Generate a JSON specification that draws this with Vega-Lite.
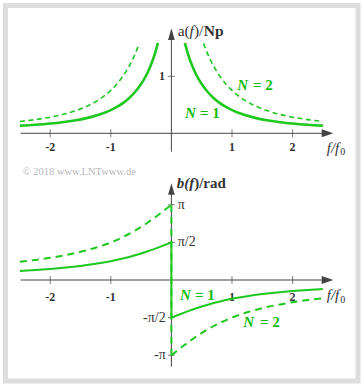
{
 "$schema": "https://vega.github.io/schema/vega-lite/v6.json",
 "width": 352.5, "height": 375.5,
 "autosize": {"type": "none"},
 "padding": {"left": 5.5, "top": 5.5, "right": 6, "bottom": 6},
 "background": "white",
 "config": {"view": {"stroke": "#dddddd", "strokeWidth": 5}, "mark": {"font": "Liberation Serif"}, "text": {"font": "Liberation Serif"}},
 "datasets": {
  "amp": [
   {"f":-2.5,"a":0.134,"N":1,"s":"L"},{"f":-2.25,"a":0.150,"N":1,"s":"L"},{"f":-2.0,"a":0.172,"N":1,"s":"L"},{"f":-1.8,"a":0.195,"N":1,"s":"L"},{"f":-1.6,"a":0.225,"N":1,"s":"L"},{"f":-1.4,"a":0.266,"N":1,"s":"L"},{"f":-1.2,"a":0.324,"N":1,"s":"L"},{"f":-1.0,"a":0.407,"N":1,"s":"L"},{"f":-0.9,"a":0.462,"N":1,"s":"L"},{"f":-0.8,"a":0.530,"N":1,"s":"L"},{"f":-0.7,"a":0.616,"N":1,"s":"L"},{"f":-0.6,"a":0.725,"N":1,"s":"L"},{"f":-0.5,"a":0.865,"N":1,"s":"L"},{"f":-0.45,"a":0.951,"N":1,"s":"L"},{"f":-0.4,"a":1.050,"N":1,"s":"L"},{"f":-0.35,"a":1.168,"N":1,"s":"L"},{"f":-0.3,"a":1.307,"N":1,"s":"L"},{"f":-0.275,"a":1.387,"N":1,"s":"L"},{"f":-0.25,"a":1.477,"N":1,"s":"L"},{"f":-0.24,"a":1.515,"N":1,"s":"L"},{"f":-0.223,"a":1.585,"N":1,"s":"L"},
   {"f":0.223,"a":1.585,"N":1,"s":"R"},{"f":0.24,"a":1.515,"N":1,"s":"R"},{"f":0.25,"a":1.477,"N":1,"s":"R"},{"f":0.275,"a":1.387,"N":1,"s":"R"},{"f":0.3,"a":1.307,"N":1,"s":"R"},{"f":0.35,"a":1.168,"N":1,"s":"R"},{"f":0.4,"a":1.050,"N":1,"s":"R"},{"f":0.45,"a":0.951,"N":1,"s":"R"},{"f":0.5,"a":0.865,"N":1,"s":"R"},{"f":0.6,"a":0.725,"N":1,"s":"R"},{"f":0.7,"a":0.616,"N":1,"s":"R"},{"f":0.8,"a":0.530,"N":1,"s":"R"},{"f":0.9,"a":0.462,"N":1,"s":"R"},{"f":1.0,"a":0.407,"N":1,"s":"R"},{"f":1.2,"a":0.324,"N":1,"s":"R"},{"f":1.4,"a":0.266,"N":1,"s":"R"},{"f":1.6,"a":0.225,"N":1,"s":"R"},{"f":1.8,"a":0.195,"N":1,"s":"R"},{"f":2.0,"a":0.172,"N":1,"s":"R"},{"f":2.25,"a":0.150,"N":1,"s":"R"},{"f":2.5,"a":0.134,"N":1,"s":"R"},
   {"f":-2.5,"a":0.208,"N":2,"s":"L"},{"f":-2.25,"a":0.240,"N":2,"s":"L"},{"f":-2.0,"a":0.283,"N":2,"s":"L"},{"f":-1.8,"a":0.329,"N":2,"s":"L"},{"f":-1.6,"a":0.390,"N":2,"s":"L"},{"f":-1.4,"a":0.472,"N":2,"s":"L"},{"f":-1.2,"a":0.587,"N":2,"s":"L"},{"f":-1.0,"a":0.753,"N":2,"s":"L"},{"f":-0.9,"a":0.864,"N":2,"s":"L"},{"f":-0.8,"a":1.001,"N":2,"s":"L"},{"f":-0.75,"a":1.082,"N":2,"s":"L"},{"f":-0.7,"a":1.172,"N":2,"s":"L"},{"f":-0.65,"a":1.274,"N":2,"s":"L"},{"f":-0.6,"a":1.389,"N":2,"s":"L"},{"f":-0.55,"a":1.520,"N":2,"s":"L"},{"f":-0.53,"a":1.577,"N":2,"s":"L"},
   {"f":0.53,"a":1.577,"N":2,"s":"R"},{"f":0.55,"a":1.520,"N":2,"s":"R"},{"f":0.6,"a":1.389,"N":2,"s":"R"},{"f":0.65,"a":1.274,"N":2,"s":"R"},{"f":0.7,"a":1.172,"N":2,"s":"R"},{"f":0.75,"a":1.082,"N":2,"s":"R"},{"f":0.8,"a":1.001,"N":2,"s":"R"},{"f":0.9,"a":0.864,"N":2,"s":"R"},{"f":1.0,"a":0.753,"N":2,"s":"R"},{"f":1.2,"a":0.587,"N":2,"s":"R"},{"f":1.4,"a":0.472,"N":2,"s":"R"},{"f":1.6,"a":0.390,"N":2,"s":"R"},{"f":1.8,"a":0.329,"N":2,"s":"R"},{"f":2.0,"a":0.283,"N":2,"s":"R"},{"f":2.25,"a":0.240,"N":2,"s":"R"},{"f":2.5,"a":0.208,"N":2,"s":"R"}
  ],
  "phase": [
   {"f":-2.5,"b":0.3805,"N":1,"s":"L"},{"f":-2.25,"b":0.4182,"N":1,"s":"L"},{"f":-2.0,"b":0.4636,"N":1,"s":"L"},{"f":-1.75,"b":0.5191,"N":1,"s":"L"},{"f":-1.5,"b":0.5880,"N":1,"s":"L"},{"f":-1.25,"b":0.6747,"N":1,"s":"L"},{"f":-1.0,"b":0.7854,"N":1,"s":"L"},{"f":-0.8,"b":0.8961,"N":1,"s":"L"},{"f":-0.6,"b":1.0304,"N":1,"s":"L"},{"f":-0.4,"b":1.1903,"N":1,"s":"L"},{"f":-0.3,"b":1.2793,"N":1,"s":"L"},{"f":-0.2,"b":1.3734,"N":1,"s":"L"},{"f":-0.1,"b":1.4711,"N":1,"s":"L"},{"f":-0.05,"b":1.5208,"N":1,"s":"L"},{"f":0,"b":1.5708,"N":1,"s":"L"},
   {"f":0,"b":-1.5708,"N":1,"s":"R"},{"f":0.05,"b":-1.5208,"N":1,"s":"R"},{"f":0.1,"b":-1.4711,"N":1,"s":"R"},{"f":0.2,"b":-1.3734,"N":1,"s":"R"},{"f":0.3,"b":-1.2793,"N":1,"s":"R"},{"f":0.4,"b":-1.1903,"N":1,"s":"R"},{"f":0.6,"b":-1.0304,"N":1,"s":"R"},{"f":0.8,"b":-0.8961,"N":1,"s":"R"},{"f":1.0,"b":-0.7854,"N":1,"s":"R"},{"f":1.25,"b":-0.6747,"N":1,"s":"R"},{"f":1.5,"b":-0.5880,"N":1,"s":"R"},{"f":1.75,"b":-0.5191,"N":1,"s":"R"},{"f":2.0,"b":-0.4636,"N":1,"s":"R"},{"f":2.25,"b":-0.4182,"N":1,"s":"R"},{"f":2.5,"b":-0.3805,"N":1,"s":"R"},
   {"f":-2.5,"b":0.7610,"N":2,"s":"L"},{"f":-2.25,"b":0.8364,"N":2,"s":"L"},{"f":-2.0,"b":0.9273,"N":2,"s":"L"},{"f":-1.75,"b":1.0382,"N":2,"s":"L"},{"f":-1.5,"b":1.1760,"N":2,"s":"L"},{"f":-1.25,"b":1.3494,"N":2,"s":"L"},{"f":-1.0,"b":1.5708,"N":2,"s":"L"},{"f":-0.8,"b":1.7922,"N":2,"s":"L"},{"f":-0.6,"b":2.0608,"N":2,"s":"L"},{"f":-0.4,"b":2.3806,"N":2,"s":"L"},{"f":-0.3,"b":2.5586,"N":2,"s":"L"},{"f":-0.2,"b":2.7468,"N":2,"s":"L"},{"f":-0.1,"b":2.9422,"N":2,"s":"L"},{"f":-0.05,"b":3.0416,"N":2,"s":"L"},{"f":0,"b":3.1416,"N":2,"s":"L"},
   {"f":0,"b":-3.1416,"N":2,"s":"R"},{"f":0.05,"b":-3.0416,"N":2,"s":"R"},{"f":0.1,"b":-2.9422,"N":2,"s":"R"},{"f":0.2,"b":-2.7468,"N":2,"s":"R"},{"f":0.3,"b":-2.5586,"N":2,"s":"R"},{"f":0.4,"b":-2.3806,"N":2,"s":"R"},{"f":0.6,"b":-2.0608,"N":2,"s":"R"},{"f":0.8,"b":-1.7922,"N":2,"s":"R"},{"f":1.0,"b":-1.5708,"N":2,"s":"R"},{"f":1.25,"b":-1.3494,"N":2,"s":"R"},{"f":1.5,"b":-1.1760,"N":2,"s":"R"},{"f":1.75,"b":-1.0382,"N":2,"s":"R"},{"f":2.0,"b":-0.9273,"N":2,"s":"R"},{"f":2.25,"b":-0.8364,"N":2,"s":"R"},{"f":2.5,"b":-0.7610,"N":2,"s":"R"}
  ],
  "xticks": [{"v":-2,"lab":"-2"},{"v":-1,"lab":"-1"},{"v":1,"lab":"1"},{"v":2,"lab":"2"}],
  "bpos": [{"v":3.1416,"lab":"π"},{"v":1.5708,"lab":"π/2"}],
  "bneg": [{"v":-1.5708,"lab":"-π/2"},{"v":-3.1416,"lab":"-π"}],
  "one": [{}]
 },
 "layer": [
  {
   "layer": [
    {"data": {"name": "one"}, "mark": {"type": "rule", "color": "#444", "strokeWidth": 1},
     "encoding": {"x": {"datum": -2.487, "type": "quantitative", "scale": {"domain": [-2.7376, 3.0792], "nice": false, "zero": false}, "axis": null}, "x2": {"datum": 2.56},
      "y": {"datum": 0, "type": "quantitative", "scale": {"domain": [-4.3456, 2.2421], "nice": false, "zero": false}, "axis": null}}},
    {"data": {"name": "one"}, "mark": {"type": "rule", "color": "#444", "strokeWidth": 1},
     "encoding": {"x": {"datum": 0, "type": "quantitative"}, "y": {"datum": -0.323, "type": "quantitative"}, "y2": {"datum": 1.70}}},
    {"data": {"name": "one"}, "mark": {"type": "point", "filled": true, "color": "#444", "opacity": 1, "shape": "M-1,-0.69L1,0L-1,0.69Z", "size": 135},
     "encoding": {"x": {"datum": 2.576, "type": "quantitative"}, "y": {"datum": 0, "type": "quantitative"}}},
    {"data": {"name": "one"}, "mark": {"type": "point", "filled": true, "color": "#444", "opacity": 1, "shape": "M-0.57,1L0,-1L0.57,1Z", "size": 137},
     "encoding": {"x": {"datum": 0, "type": "quantitative"}, "y": {"datum": 1.739, "type": "quantitative"}}},
    {"data": {"name": "xticks"}, "mark": {"type": "tick", "orient": "vertical", "color": "#444", "size": 8, "thickness": 1},
     "encoding": {"x": {"field": "v", "type": "quantitative"}, "y": {"datum": 0, "type": "quantitative"}}},
    {"data": {"name": "xticks"}, "mark": {"type": "text", "font": "Liberation Serif", "fontWeight": "bold", "fontSize": 12, "color": "#333", "baseline": "middle"},
     "encoding": {"x": {"field": "v", "type": "quantitative"}, "y": {"datum": -0.235, "type": "quantitative"}, "text": {"field": "lab"}}},
    {"data": {"name": "one"}, "mark": {"type": "tick", "orient": "horizontal", "color": "#444", "size": 7, "thickness": 1},
     "encoding": {"x": {"datum": 0, "type": "quantitative"}, "y": {"datum": 1, "type": "quantitative"}}},
    {"data": {"name": "one"}, "mark": {"type": "text", "font": "Liberation Serif", "text": "1", "fontWeight": "bold", "fontSize": 12, "color": "#333", "align": "right", "baseline": "middle"},
     "encoding": {"x": {"datum": -0.106, "type": "quantitative"}, "y": {"datum": 1, "type": "quantitative"}}},
    {"data": {"name": "one"}, "mark": {"type": "text", "font": "Liberation Serif", "text": "a(", "fontSize": 15.5, "color": "#333", "align": "left", "baseline": "middle"},
     "encoding": {"x": {"datum": 0.104, "type": "quantitative"}, "y": {"datum": 1.79, "type": "quantitative"}}},
    {"data": {"name": "one"}, "mark": {"type": "text", "font": "Liberation Serif", "text": "f", "fontSize": 15.5, "fontStyle": "italic", "color": "#333", "align": "left", "baseline": "middle"},
     "encoding": {"x": {"datum": 0.300, "type": "quantitative"}, "y": {"datum": 1.79, "type": "quantitative"}}},
    {"data": {"name": "one"}, "mark": {"type": "text", "font": "Liberation Serif", "text": ")/", "fontSize": 15.5, "color": "#333", "align": "left", "baseline": "middle"},
     "encoding": {"x": {"datum": 0.372, "type": "quantitative"}, "y": {"datum": 1.79, "type": "quantitative"}}},
    {"data": {"name": "one"}, "mark": {"type": "text", "font": "Liberation Serif", "text": "Np", "fontSize": 15.5, "fontWeight": "bold", "color": "#333", "align": "left", "baseline": "middle"},
     "encoding": {"x": {"datum": 0.535, "type": "quantitative"}, "y": {"datum": 1.79, "type": "quantitative"}}},
    {"data": {"name": "one"}, "mark": {"type": "text", "font": "Liberation Serif", "text": "f/f", "fontSize": 15, "fontStyle": "italic", "color": "#333", "align": "left", "baseline": "alphabetic"},
     "encoding": {"x": {"datum": 2.563, "type": "quantitative"}, "y": {"datum": -0.337, "type": "quantitative"}}},
    {"data": {"name": "one"}, "mark": {"type": "text", "font": "Liberation Serif", "text": "0", "fontSize": 10, "color": "#333", "align": "left", "baseline": "alphabetic"},
     "encoding": {"x": {"datum": 2.785, "type": "quantitative"}, "y": {"datum": -0.381, "type": "quantitative"}}},
    {"data": {"name": "one"}, "mark": {"type": "text", "font": "Liberation Serif", "text": "© 2018 www.LNTwww.de", "fontSize": 10.5, "color": "#b8b8b8", "align": "left", "baseline": "middle"},
     "encoding": {"x": {"datum": -2.454, "type": "quantitative"}, "y": {"datum": -0.684, "type": "quantitative"}}},
    {"data": {"name": "one"}, "mark": {"type": "text", "font": "Liberation Serif", "text": "N", "fontSize": 15, "fontWeight": "bold", "fontStyle": "italic", "color": "#11bb11", "align": "left", "baseline": "middle"},
     "encoding": {"x": {"datum": 0.224, "type": "quantitative"}, "y": {"datum": 0.351, "type": "quantitative"}}},
    {"data": {"name": "one"}, "mark": {"type": "text", "font": "Liberation Serif", "text": "= 1", "fontSize": 15, "fontWeight": "bold", "color": "#11bb11", "align": "left", "baseline": "middle"},
     "encoding": {"x": {"datum": 0.472, "type": "quantitative"}, "y": {"datum": 0.351, "type": "quantitative"}}},
    {"data": {"name": "one"}, "mark": {"type": "text", "font": "Liberation Serif", "text": "N", "fontSize": 15, "fontWeight": "bold", "fontStyle": "italic", "color": "#11bb11", "align": "left", "baseline": "middle"},
     "encoding": {"x": {"datum": 1.087, "type": "quantitative"}, "y": {"datum": 0.847, "type": "quantitative"}}},
    {"data": {"name": "one"}, "mark": {"type": "text", "font": "Liberation Serif", "text": "= 2", "fontSize": 15, "fontWeight": "bold", "color": "#11bb11", "align": "left", "baseline": "middle"},
     "encoding": {"x": {"datum": 1.345, "type": "quantitative"}, "y": {"datum": 0.847, "type": "quantitative"}}},
    {"data": {"name": "amp"}, "transform": [{"filter": "datum.N == 1"}], "mark": {"type": "line", "color": "#1ec81e", "strokeWidth": 2.6, "interpolate": "monotone"},
     "encoding": {"x": {"field": "f", "type": "quantitative"}, "y": {"field": "a", "type": "quantitative"}, "detail": {"field": "s"}}},
    {"data": {"name": "amp"}, "transform": [{"filter": "datum.N == 2"}], "mark": {"type": "line", "color": "#1ec81e", "strokeWidth": 1.6, "strokeDash": [5, 3.5], "interpolate": "monotone"},
     "encoding": {"x": {"field": "f", "type": "quantitative"}, "y": {"field": "a", "type": "quantitative"}, "detail": {"field": "s"}}}
   ]
  },
  {
   "layer": [
    {"data": {"name": "one"}, "mark": {"type": "rule", "color": "#444", "strokeWidth": 1},
     "encoding": {"x": {"datum": -2.487, "type": "quantitative", "scale": {"domain": [-2.7376, 3.0792], "nice": false, "zero": false}, "axis": null}, "x2": {"datum": 2.56},
      "y": {"datum": 0, "type": "quantitative", "scale": {"domain": [-4.2171, 11.4614], "nice": false, "zero": false}, "axis": null}}},
    {"data": {"name": "one"}, "mark": {"type": "rule", "color": "#444", "strokeWidth": 1},
     "encoding": {"x": {"datum": 0, "type": "quantitative"}, "y": {"datum": -3.62, "type": "quantitative"}, "y2": {"datum": 3.75}}},
    {"data": {"name": "one"}, "mark": {"type": "point", "filled": true, "color": "#444", "opacity": 1, "shape": "M-1,-0.69L1,0L-1,0.69Z", "size": 135},
     "encoding": {"x": {"datum": 2.576, "type": "quantitative"}, "y": {"datum": 0, "type": "quantitative"}}},
    {"data": {"name": "one"}, "mark": {"type": "point", "filled": true, "color": "#444", "opacity": 1, "shape": "M-0.57,1L0,-1L0.57,1Z", "size": 137},
     "encoding": {"x": {"datum": 0, "type": "quantitative"}, "y": {"datum": 3.80, "type": "quantitative"}}},
    {"data": {"name": "xticks"}, "mark": {"type": "tick", "orient": "vertical", "color": "#444", "size": 8, "thickness": 1},
     "encoding": {"x": {"field": "v", "type": "quantitative"}, "y": {"datum": 0, "type": "quantitative"}}},
    {"data": {"name": "xticks"}, "mark": {"type": "text", "font": "Liberation Serif", "fontWeight": "bold", "fontSize": 12, "color": "#333", "baseline": "middle"},
     "encoding": {"x": {"field": "v", "type": "quantitative"}, "y": {"datum": -0.697, "type": "quantitative"}, "text": {"field": "lab"}}},
    {"data": {"name": "bpos"}, "mark": {"type": "tick", "orient": "horizontal", "color": "#444", "size": 7, "thickness": 1},
     "encoding": {"x": {"datum": 0, "type": "quantitative"}, "y": {"field": "v", "type": "quantitative"}}},
    {"data": {"name": "bneg"}, "mark": {"type": "tick", "orient": "horizontal", "color": "#444", "size": 7, "thickness": 1},
     "encoding": {"x": {"datum": 0, "type": "quantitative"}, "y": {"field": "v", "type": "quantitative"}}},
    {"data": {"name": "bpos"}, "mark": {"type": "text", "font": "Liberation Serif", "fontSize": 14, "color": "#333", "align": "left", "baseline": "middle"},
     "encoding": {"x": {"datum": 0.104, "type": "quantitative"}, "y": {"field": "v", "type": "quantitative"}, "text": {"field": "lab"}}},
    {"data": {"name": "bneg"}, "mark": {"type": "text", "font": "Liberation Serif", "fontSize": 14, "color": "#333", "align": "right", "baseline": "middle"},
     "encoding": {"x": {"datum": -0.094, "type": "quantitative"}, "y": {"field": "v", "type": "quantitative"}, "text": {"field": "lab"}}},
    {"data": {"name": "one"}, "mark": {"type": "text", "font": "Liberation Serif", "text": "b(f", "fontSize": 15, "fontWeight": "bold", "fontStyle": "italic", "color": "#333", "align": "left", "baseline": "middle"},
     "encoding": {"x": {"datum": 0.087, "type": "quantitative"}, "y": {"datum": 4.04, "type": "quantitative"}}},
    {"data": {"name": "one"}, "mark": {"type": "text", "font": "Liberation Serif", "text": ")/rad", "fontSize": 15, "fontWeight": "bold", "color": "#333", "align": "left", "baseline": "middle"},
     "encoding": {"x": {"datum": 0.376, "type": "quantitative"}, "y": {"datum": 4.04, "type": "quantitative"}}},
    {"data": {"name": "one"}, "mark": {"type": "text", "font": "Liberation Serif", "text": "f/f", "fontSize": 15, "fontStyle": "italic", "color": "#333", "align": "left", "baseline": "alphabetic"},
     "encoding": {"x": {"datum": 2.563, "type": "quantitative"}, "y": {"datum": -0.835, "type": "quantitative"}}},
    {"data": {"name": "one"}, "mark": {"type": "text", "font": "Liberation Serif", "text": "0", "fontSize": 10, "color": "#333", "align": "left", "baseline": "alphabetic"},
     "encoding": {"x": {"datum": 2.785, "type": "quantitative"}, "y": {"datum": -0.94, "type": "quantitative"}}},
    {"data": {"name": "one"}, "mark": {"type": "text", "font": "Liberation Serif", "text": "N", "fontSize": 15, "fontWeight": "bold", "fontStyle": "italic", "color": "#11bb11", "align": "left", "baseline": "middle"},
     "encoding": {"x": {"datum": 0.142, "type": "quantitative"}, "y": {"datum": -0.626, "type": "quantitative"}}},
    {"data": {"name": "one"}, "mark": {"type": "text", "font": "Liberation Serif", "text": "= 1", "fontSize": 15, "fontWeight": "bold", "color": "#11bb11", "align": "left", "baseline": "middle"},
     "encoding": {"x": {"datum": 0.389, "type": "quantitative"}, "y": {"datum": -0.626, "type": "quantitative"}}},
    {"data": {"name": "one"}, "mark": {"type": "text", "font": "Liberation Serif", "text": "N", "fontSize": 15, "fontWeight": "bold", "fontStyle": "italic", "color": "#11bb11", "align": "left", "baseline": "middle"},
     "encoding": {"x": {"datum": 1.186, "type": "quantitative"}, "y": {"datum": -1.741, "type": "quantitative"}}},
    {"data": {"name": "one"}, "mark": {"type": "text", "font": "Liberation Serif", "text": "= 2", "fontSize": 15, "fontWeight": "bold", "color": "#11bb11", "align": "left", "baseline": "middle"},
     "encoding": {"x": {"datum": 1.46, "type": "quantitative"}, "y": {"datum": -1.741, "type": "quantitative"}}},
    {"data": {"name": "phase"}, "transform": [{"filter": "datum.N == 1"}], "mark": {"type": "line", "color": "#1ec81e", "strokeWidth": 2, "interpolate": "monotone"},
     "encoding": {"x": {"field": "f", "type": "quantitative"}, "y": {"field": "b", "type": "quantitative"}, "detail": {"field": "s"}}},
    {"data": {"name": "phase"}, "transform": [{"filter": "datum.N == 2"}], "mark": {"type": "line", "color": "#1ec81e", "strokeWidth": 2, "strokeDash": [7, 5], "interpolate": "monotone"},
     "encoding": {"x": {"field": "f", "type": "quantitative"}, "y": {"field": "b", "type": "quantitative"}, "detail": {"field": "s"}}},
    {"data": {"name": "one"}, "mark": {"type": "rule", "color": "#1ec81e", "strokeWidth": 2, "strokeDash": [7, 5]},
     "encoding": {"x": {"datum": 0, "type": "quantitative"}, "y": {"datum": 3.1416, "type": "quantitative"}, "y2": {"datum": -3.1416}}},
    {"data": {"name": "one"}, "mark": {"type": "rule", "color": "#1ec81e", "strokeWidth": 2},
     "encoding": {"x": {"datum": 0, "type": "quantitative"}, "y": {"datum": 1.5708, "type": "quantitative"}, "y2": {"datum": -1.5708}}}
   ]
  }
 ],
 "resolve": {"scale": {"y": "independent"}}
}
